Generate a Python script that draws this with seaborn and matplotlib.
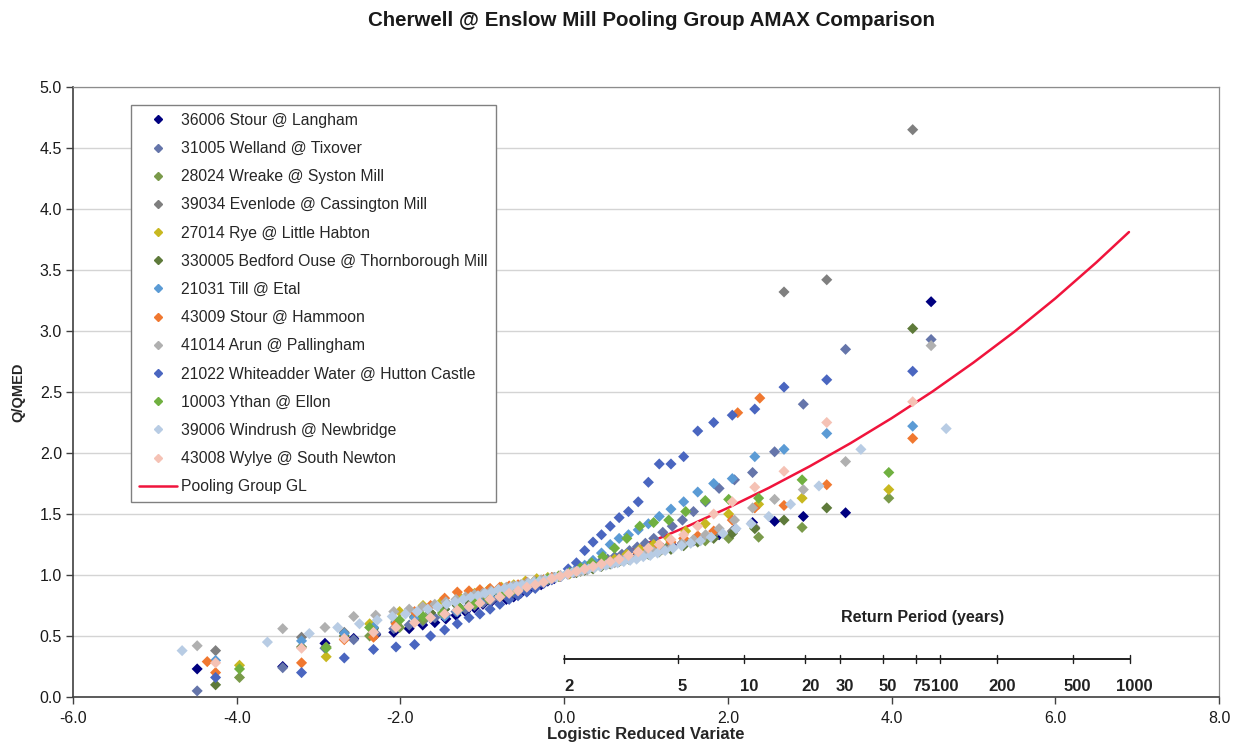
import numpy as np
import pandas as pd
import matplotlib
matplotlib.use("Agg")
import matplotlib.pyplot as plt
import seaborn as sns
from matplotlib.lines import Line2D

sns.set_theme(style="white")
plt.rcParams['font.family'] = ['Liberation Sans', 'DejaVu Sans']
plt.rcParams['axes.unicode_minus'] = False

# ---- plotting positions (logistic reduced variate) ----
X30 = [-3.966, -2.907, -2.376, -2.010, -1.724, -1.485, -1.278, -1.093, -0.924, -0.766,
       -0.616, -0.473, -0.335, -0.200, -0.066,
       0.066, 0.200, 0.335, 0.473, 0.616, 0.766, 0.924, 1.093, 1.278, 1.485,
       1.724, 2.010, 2.376, 2.907, 3.966]
X40 = [-4.258, -3.208, -2.686, -2.329, -2.054, -1.827, -1.632, -1.460, -1.305, -1.162,
       -1.029, -0.905, -0.786, -0.672, -0.563, -0.456, -0.353, -0.251, -0.150, -0.050,
       0.050, 0.150, 0.251, 0.353, 0.456, 0.563, 0.672, 0.786, 0.905, 1.029,
       1.162, 1.305, 1.460, 1.632, 1.827, 2.054, 2.329, 2.686, 3.208, 4.258]
X50 = [-4.483, -3.438, -2.922, -2.571, -2.302, -2.081, -1.893, -1.728, -1.580, -1.445,
       -1.321, -1.205, -1.095, -0.992, -0.893, -0.798, -0.706, -0.617, -0.531, -0.446,
       -0.363, -0.281, -0.200, -0.120, -0.040,
       0.040, 0.120, 0.200, 0.281, 0.363, 0.446, 0.531, 0.617, 0.706, 0.798,
       0.893, 0.992, 1.095, 1.205, 1.321, 1.445, 1.580, 1.728, 1.893, 2.081,
       2.302, 2.571, 2.922, 3.438, 4.483]
X60 = [-4.667, -3.625, -3.113, -2.766, -2.500, -2.284, -2.100, -1.939, -1.796, -1.666,
       -1.546, -1.435, -1.331, -1.234, -1.141, -1.052, -0.967, -0.885, -0.806, -0.729,
       -0.654, -0.581, -0.510, -0.439, -0.370, -0.302, -0.234, -0.167, -0.100, -0.033,
       0.033, 0.100, 0.167, 0.234, 0.302, 0.370, 0.439, 0.510, 0.581, 0.654,
       0.729, 0.806, 0.885, 0.967, 1.052, 1.141, 1.234, 1.331, 1.435, 1.546,
       1.666, 1.796, 1.939, 2.100, 2.284, 2.500, 2.766, 3.113, 3.625, 4.667]

# ---- Q/QMED values per station ----
LANGHAM_Q = [0.23, 0.25, 0.44, 0.48, 0.51, 0.53, 0.56, 0.59, 0.61, 0.64, 0.67, 0.70, 0.73,
             0.76, 0.78, 0.80, 0.80, 0.82, 0.85, 0.87, 0.90, 0.92, 0.95, 0.97, 0.99,
             1.01, 1.02, 1.04, 1.05, 1.07, 1.08, 1.10, 1.11, 1.13, 1.14, 1.16, 1.18, 1.20,
             1.22, 1.24, 1.26, 1.28, 1.30, 1.33, 1.37, 1.43, 1.44, 1.48, 1.51, 3.24]
WELLAND_Q = [0.05, 0.24, 0.40, 0.47, 0.52, 0.56, 0.59, 0.62, 0.65, 0.67, 0.70, 0.72, 0.75,
             0.77, 0.79, 0.81, 0.83, 0.86, 0.88, 0.90, 0.92, 0.94, 0.96, 0.98, 0.99,
             1.01, 1.03, 1.05, 1.07, 1.09, 1.11, 1.13, 1.15, 1.17, 1.20, 1.23, 1.26, 1.30,
             1.35, 1.40, 1.45, 1.52, 1.60, 1.71, 1.78, 1.84, 2.01, 2.40, 2.85, 2.93]
WREAKE_Q = [0.16, 0.41, 0.50, 0.57, 0.63, 0.68, 0.72, 0.76, 0.80, 0.83, 0.86, 0.90, 0.93,
            0.96, 0.99,
            1.01, 1.03, 1.06, 1.09, 1.12, 1.15, 1.18, 1.21, 1.24, 1.26, 1.28, 1.30, 1.31,
            1.39, 1.63]
EVENLODE_Q = [0.38, 0.49, 0.53, 0.57, 0.62, 0.66, 0.69, 0.72, 0.75, 0.78, 0.80, 0.82, 0.85,
              0.87, 0.89, 0.91, 0.93, 0.95, 0.97, 0.99,
              1.01, 1.02, 1.04, 1.06, 1.08, 1.10, 1.12, 1.14, 1.16, 1.18, 1.20, 1.24, 1.27,
              1.30, 1.33, 1.36, 1.39, 3.32, 3.42, 4.65]
RYE_Q = [0.26, 0.33, 0.60, 0.70, 0.75, 0.79, 0.82, 0.85, 0.88, 0.90, 0.92, 0.95, 0.97,
         0.98, 0.99,
         1.01, 1.04, 1.07, 1.10, 1.13, 1.17, 1.21, 1.25, 1.30, 1.36, 1.42, 1.50, 1.58,
         1.63, 1.70]
BEDFORD_Q = [0.10, 0.41, 0.50, 0.56, 0.61, 0.65, 0.69, 0.72, 0.75, 0.78, 0.81, 0.83, 0.85,
             0.87, 0.89, 0.91, 0.93, 0.95, 0.97, 0.99,
             1.01, 1.02, 1.04, 1.05, 1.07, 1.09, 1.11, 1.13, 1.15, 1.17, 1.19, 1.21, 1.24,
             1.27, 1.30, 1.34, 1.38, 1.45, 1.55, 3.02]
TILL_Q = [0.30, 0.46, 0.52, 0.57, 0.61, 0.65, 0.65, 0.66, 0.70, 0.74, 0.78, 0.82, 0.85,
          0.88, 0.90, 0.92, 0.94, 0.96, 0.98, 0.99,
          1.02, 1.05, 1.08, 1.12, 1.18, 1.25, 1.30, 1.33, 1.37, 1.42, 1.48, 1.54, 1.60,
          1.68, 1.75, 1.79, 1.97, 2.03, 2.16, 2.22]
HAMMOON_Q = [0.20, 0.28, 0.47, 0.49, 0.60, 0.70, 0.75, 0.81, 0.86, 0.87, 0.88, 0.89, 0.90,
             0.91, 0.92, 0.94, 0.95, 0.96, 0.98, 0.99,
             1.01, 1.03, 1.05, 1.07, 1.09, 1.11, 1.13, 1.15, 1.18, 1.21, 1.24, 1.27, 1.30,
             1.32, 1.36, 1.45, 1.55, 1.57, 1.74, 2.12]
HAMMOON_EXTRA_X = [-4.36, 2.12, 2.39]
HAMMOON_EXTRA_Q = [0.29, 2.33, 2.45]
ARUN_Q = [0.42, 0.56, 0.57, 0.66, 0.67, 0.70, 0.72, 0.74, 0.76, 0.78, 0.80, 0.82, 0.84,
          0.85, 0.87, 0.88, 0.90, 0.91, 0.92, 0.94, 0.95, 0.96, 0.97, 0.98, 0.99,
          1.01, 1.02, 1.03, 1.04, 1.06, 1.07, 1.09, 1.10, 1.12, 1.13, 1.15, 1.17, 1.19,
          1.21, 1.23, 1.26, 1.29, 1.33, 1.38, 1.45, 1.55, 1.62, 1.70, 1.93, 2.88]
WHITEADDER_Q = [0.16, 0.20, 0.32, 0.39, 0.41, 0.43, 0.50, 0.55, 0.60, 0.65, 0.68, 0.72, 0.76,
                0.80, 0.83, 0.86, 0.89, 0.93, 0.96, 0.99,
                1.05, 1.10, 1.20, 1.27, 1.33, 1.40, 1.47, 1.52, 1.60, 1.76, 1.91, 1.91, 1.97,
                2.18, 2.25, 2.31, 2.36, 2.54, 2.60, 2.67]
YTHAN_Q = [0.23, 0.40, 0.57, 0.63, 0.66, 0.69, 0.73, 0.77, 0.81, 0.85, 0.88, 0.91, 0.94,
           0.97, 0.99,
           1.02, 1.06, 1.10, 1.15, 1.22, 1.30, 1.40, 1.43, 1.45, 1.52, 1.61, 1.62, 1.63,
           1.78, 1.84]
WINDRUSH_Q = [0.38, 0.45, 0.52, 0.57, 0.60, 0.63, 0.66, 0.68, 0.70, 0.72, 0.74, 0.76, 0.78,
              0.80, 0.82, 0.83, 0.85, 0.86, 0.88, 0.89, 0.90, 0.91, 0.92, 0.93, 0.94, 0.95,
              0.96, 0.97, 0.98, 0.99,
              1.01, 1.02, 1.03, 1.04, 1.05, 1.06, 1.07, 1.08, 1.09, 1.10, 1.11, 1.12, 1.13,
              1.15, 1.16, 1.18, 1.20, 1.22, 1.24, 1.26, 1.28, 1.31, 1.34, 1.38, 1.42, 1.48,
              1.58, 1.73, 2.03, 2.20]
WYLYE_Q = [0.28, 0.40, 0.48, 0.53, 0.57, 0.61, 0.65, 0.68, 0.71, 0.74, 0.77, 0.80, 0.82,
           0.85, 0.87, 0.90, 0.92, 0.94, 0.97, 0.99,
           1.01, 1.03, 1.05, 1.07, 1.09, 1.11, 1.13, 1.16, 1.19, 1.22, 1.25, 1.29, 1.33,
           1.40, 1.50, 1.60, 1.72, 1.85, 2.25, 2.42]

STATIONS = ["36006 Stour @ Langham", "31005 Welland @ Tixover", "28024 Wreake @ Syston Mill",
            "39034 Evenlode @ Cassington Mill", "27014 Rye @ Little Habton",
            "330005 Bedford Ouse @ Thornborough Mill", "21031 Till @ Etal",
            "43009 Stour @ Hammoon", "41014 Arun @ Pallingham",
            "21022 Whiteadder Water @ Hutton Castle", "10003 Ythan @ Ellon",
            "39006 Windrush @ Newbridge", "43008 Wylye @ South Newton"]
COLORS = ['#000080', '#6575aa', '#7a9a4a', '#7f7f7f', '#c8b820', '#5e7a3a', '#5b9bd5',
          '#f07830', '#b0b0b0', '#4a66c0', '#70b040', '#b8cce4', '#f5c2b5']
SERIES_X = [X50, X50, X30, X40, X30, X40, X40, X40 + HAMMOON_EXTRA_X, X50, X40, X30, X60, X40]
SERIES_Q = [LANGHAM_Q, WELLAND_Q, WREAKE_Q, EVENLODE_Q, RYE_Q, BEDFORD_Q, TILL_Q,
            HAMMOON_Q + HAMMOON_EXTRA_Q, ARUN_Q, WHITEADDER_Q, YTHAN_Q, WINDRUSH_Q, WYLYE_Q]

# Pooling group growth curve (GL)
CURVE_X = [0.0, 0.5, 1.0, 1.5, 2.0, 2.5, 3.0, 3.5, 4.0, 4.5, 5.0, 5.5, 6.0, 6.5, 6.9]
CURVE_Q = [1.000, 1.123, 1.255, 1.397, 1.550, 1.714, 1.891, 2.081, 2.285, 2.504,
           2.741, 2.994, 3.267, 3.561, 3.811]

RP_YEARS = [2, 5, 10, 20, 30, 50, 75, 100, 200, 500, 1000]
RP_LABELS = ["2", "5", "10", "20", "30", "50", "75", "100", "200", "500", "1000"]

rows = []
for name, xs, qs in zip(STATIONS, SERIES_X, SERIES_Q):
    if len(xs) != len(qs):
        raise ValueError(f"length mismatch for {name}: {len(xs)} vs {len(qs)}")
    rows += [(name, x, q) for x, q in zip(xs, qs)]
df = pd.DataFrame(rows, columns=["station", "lrv", "q"])

fig = plt.figure(figsize=(12.44, 7.49), dpi=100)
ax = fig.add_axes([73 / 1244, 1 - 697 / 749, (1219 - 73) / 1244, (697 - 87) / 749])

ax.set_xlim(-6, 8)
ax.set_ylim(0, 5)
ax.set_xticks(np.arange(-6, 8.1, 2))
ax.set_yticks(np.arange(0, 5.01, 0.5))
ax.set_xticklabels([f"{v:.1f}" for v in np.arange(-6, 8.1, 2)])
ax.set_yticklabels([f"{v:.1f}" for v in np.arange(0, 5.01, 0.5)])
ax.yaxis.grid(True, color='#d4d4d4', lw=1.0)
ax.xaxis.grid(False)
ax.set_axisbelow(True)

RED = '#f0143c'
sns.lineplot(x=CURVE_X, y=CURVE_Q, color=RED, lw=1.8, ax=ax, zorder=2, sort=False)
sns.scatterplot(data=df, x="lrv", y="q", hue="station", hue_order=STATIONS,
                palette=COLORS, marker='D', s=32, linewidth=0, legend=False, ax=ax, zorder=3)

# return period secondary scale
rp_y = 0.31
rp_x = np.log(np.array(RP_YEARS, dtype=float) - 1.0)
ax.plot([rp_x[0], rp_x[-1]], [rp_y, rp_y], color='#202020', lw=1.4, zorder=4)
for xv, lab in zip(rp_x, RP_LABELS):
    ax.plot([xv, xv], [rp_y - 0.035, rp_y + 0.035], color='#202020', lw=1.0, zorder=4)
    ax.text(xv + 0.06, 0.09, lab, ha='center', va='center', fontsize=12,
            fontweight='bold', color='#222222', zorder=5)
ax.text(4.38, 0.65, "Return Period (years)", ha='center', va='center', fontsize=11.5,
        fontweight='bold', color='#222222')

for side in ['left', 'bottom']:
    ax.spines[side].set_color('#404040')
    ax.spines[side].set_linewidth(1.2)
for side in ['top', 'right']:
    ax.spines[side].set_color('#8c8c8c')
    ax.spines[side].set_linewidth(0.9)
ax.tick_params(axis='both', which='major', direction='out', length=5, width=1,
               color='#404040', labelsize=11.5, labelcolor='#1a1a1a', pad=3)
ax.tick_params(axis='x', bottom=True, pad=5)
ax.tick_params(axis='y', left=True)

ax.set_xlabel("Logistic Reduced Variate", fontsize=12, fontweight='bold', labelpad=1)
ax.set_ylabel("Q/QMED", fontsize=10.5, fontweight='bold', labelpad=10)
fig.text(651 / 1244, 1 - 20 / 749, "Cherwell @ Enslow Mill Pooling Group AMAX Comparison",
         ha='center', va='center', fontsize=14.8, fontweight='bold', color='#1a1a1a')

handles = [Line2D([], [], marker='D', color=c, linestyle='none', markersize=4.5)
           for c in COLORS]
handles.append(Line2D([], [], color=RED, lw=1.8))
labels = STATIONS + ["Pooling Group GL"]
leg = ax.legend(handles, labels, loc='upper left', bbox_to_anchor=(0.0506, 0.9705),
                borderaxespad=0, frameon=True, fancybox=False, edgecolor='#808080',
                fontsize=11.3, labelspacing=0.84, handlelength=2.4, handletextpad=0.3,
                borderpad=0.5, framealpha=1)
leg.get_frame().set_linewidth(1.0)
leg.set_zorder(6)

fig.savefig("out.png", dpi=100)
